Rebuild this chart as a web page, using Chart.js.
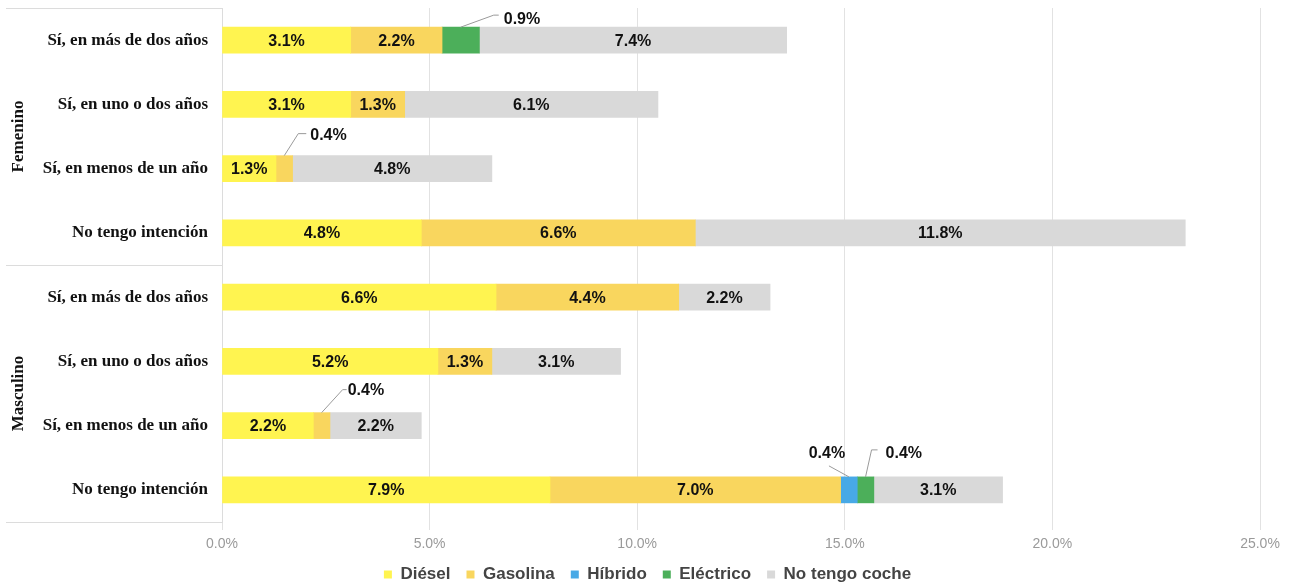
<!DOCTYPE html>
<html>
<head>
<meta charset="utf-8">
<script src="https://cdn.jsdelivr.net/npm/chart.js@4.4.1/dist/chart.umd.min.js"></script>
<style>
  html, body { margin: 0; padding: 0; background: #ffffff; }
  #wrap { width: 1295px; height: 588px; position: relative; }
</style>
</head>
<body>
<div id="wrap"><canvas id="c" width="1295" height="588"></canvas></div>
<script>
// ---- Data ----
const categories = [
  'Sí, en más de dos años', 'Sí, en uno o dos años', 'Sí, en menos de un año', 'No tengo intención',
  'Sí, en más de dos años', 'Sí, en uno o dos años', 'Sí, en menos de un año', 'No tengo intención'
];
const groups = ['Femenino', 'Masculino'];
const seriesNames = ['Diésel', 'Gasolina', 'Híbrido', 'Eléctrico', 'No tengo coche'];
const diesel    = [3.1, 3.1, 1.3, 4.8, 6.6, 5.2, 2.2, 7.9];
const gasolina  = [2.2, 1.3, 0.4, 6.6, 4.4, 1.3, 0.4, 7.0];
const hibrido   = [null, null, null, null, null, null, null, 0.4];
const electrico = [0.9, null, null, null, null, null, null, 0.4];
const noCoche   = [7.4, 6.1, 4.8, 11.8, 2.2, 3.1, 2.2, 3.1];
const xTicks = [0, 5, 10, 15, 20, 25];

// ---- Styles ----
const colors = ['#FFF450', '#F9D65E', '#48A9E6', '#4CAF5A', '#D9D9D9'];
const seriesData = [diesel, gasolina, hibrido, electrico, noCoche];

// callouts for small segments: dataset index, data index, leader points (relative to segment top-centre), label anchor, align
const callouts = [
  { ds: 3, i: 0, pts: [[0,0],[33,-12],[38,-12]], lab: [43,-8], align: 'left' },
  { ds: 1, i: 2, pts: [[0,0],[14,-22],[22,-22]], lab: [26,-20], align: 'left' },
  { ds: 1, i: 6, pts: [[0,0],[21,-23],[25,-23]], lab: [26,-22], align: 'left' },
  { ds: 2, i: 7, pts: [[0,0],[-20,-11]], lab: [-22,-23], align: 'center' },
  { ds: 3, i: 7, pts: [[0,0],[6,-27],[12,-27]], lab: [20,-23], align: 'left' }
];

const labelsPlugin = {
  id: 'labelsPlugin',
  afterDatasetsDraw(chart) {
    const ctx = chart.ctx;
    ctx.save();
    ctx.font = 'bold 16px "Liberation Sans", Arial, sans-serif';
    ctx.fillStyle = '#111';
    ctx.textBaseline = 'middle';
    chart.data.datasets.forEach((ds, d) => {
      const meta = chart.getDatasetMeta(d);
      meta.data.forEach((el, i) => {
        const v = ds.data[i];
        if (v == null) return;
        const left = Math.min(el.x, el.base), right = Math.max(el.x, el.base);
        const cx = (left + right) / 2;
        const c = callouts.find(c => c.ds === d && c.i === i);
        if (c) {
          const top = el.y - el.height / 2;
          ctx.strokeStyle = '#9a9a9a';
          ctx.lineWidth = 1;
          ctx.beginPath();
          c.pts.forEach((p, k) => {
            const px = cx + p[0], py = top + p[1];
            if (k === 0) ctx.moveTo(px, py); else ctx.lineTo(px, py);
          });
          ctx.stroke();
          ctx.textAlign = c.align;
          ctx.fillStyle = '#111';
          ctx.fillText(v.toFixed(1) + '%', cx + c.lab[0], top + c.lab[1]);
        } else {
          ctx.textAlign = 'center';
          ctx.fillStyle = '#111';
          ctx.fillText(v.toFixed(1) + '%', cx, el.y + 1);
        }
      });
    });
    ctx.restore();
  }
};

const groupPlugin = {
  id: 'groupPlugin',
  afterDraw(chart) {
    const ctx = chart.ctx;
    const ca = chart.chartArea;
    ctx.save();
    ctx.strokeStyle = '#dcdcdc';
    ctx.lineWidth = 1;
    const x0 = 6, x1 = ca.left;
    const step = (ca.bottom - ca.top) / categories.length;
    const lines = [ca.top, ca.top + step * 4, ca.bottom];
    lines.forEach(y => {
      ctx.beginPath();
      ctx.moveTo(x0, Math.round(y) + 0.5);
      ctx.lineTo(x1, Math.round(y) + 0.5);
      ctx.stroke();
    });
    ctx.fillStyle = '#111';
    ctx.font = 'bold 17px "Liberation Serif", "Times New Roman", serif';
    ctx.textAlign = 'center';
    ctx.textBaseline = 'middle';
    groups.forEach((g, k) => {
      const cy = ca.top + step * 4 * k + step * 2;
      ctx.save();
      ctx.translate(19, cy);
      ctx.rotate(-Math.PI / 2);
      ctx.fillText(g, 0, 0);
      ctx.restore();
    });
    ctx.restore();
  }
};

new Chart(document.getElementById('c'), {
  type: 'bar',
  data: {
    labels: categories,
    datasets: seriesNames.map((n, k) => ({
      label: n,
      data: seriesData[k],
      backgroundColor: colors[k],
      borderWidth: 0,
      barThickness: 26
    }))
  },
  options: {
    indexAxis: 'y',
    responsive: false,
    animation: false,
    devicePixelRatio: 1,
    layout: { padding: { top: 8, right: 0, left: 0, bottom: -5 } },
    scales: {
      x: {
        stacked: true,
        min: 0,
        max: 25,
        afterBuildTicks(scale) { scale.ticks = xTicks.map(v => ({ value: v })); },
        afterFit(scale) { scale.height = 28; scale.paddingLeft = 0; scale.paddingRight = 35; },
        ticks: {
          callback: v => v.toFixed(1) + '%',
          color: '#9a9a9a',
          font: { family: '"Liberation Sans", Arial, sans-serif', size: 14 },
          padding: 6,
          maxRotation: 0
        },
        grid: { color: '#e2e2e2', tickLength: 8, tickColor: '#e2e2e2' },
        border: { display: false }
      },
      y: {
        stacked: true,
        afterFit(scale) { scale.width = 222; scale.paddingTop = 0; scale.paddingBottom = 0; },
        ticks: {
          color: '#111',
          font: { family: '"Liberation Serif", "Times New Roman", serif', size: 17, weight: 'bold' },
          padding: 14
        },
        grid: { display: false, drawTicks: false },
        border: { display: true, color: '#dcdcdc', width: 1 }
      }
    },
    plugins: {
      legend: {
        position: 'bottom',
        labels: {
          boxWidth: 8,
          boxHeight: 8,
          padding: 16,
          color: '#444',
          font: { family: '"Liberation Sans", Arial, sans-serif', size: 17, weight: 'bold' }
        }
      },
      tooltip: { enabled: false }
    }
  },
  plugins: [labelsPlugin, groupPlugin]
});
</script>
</body>
</html>
